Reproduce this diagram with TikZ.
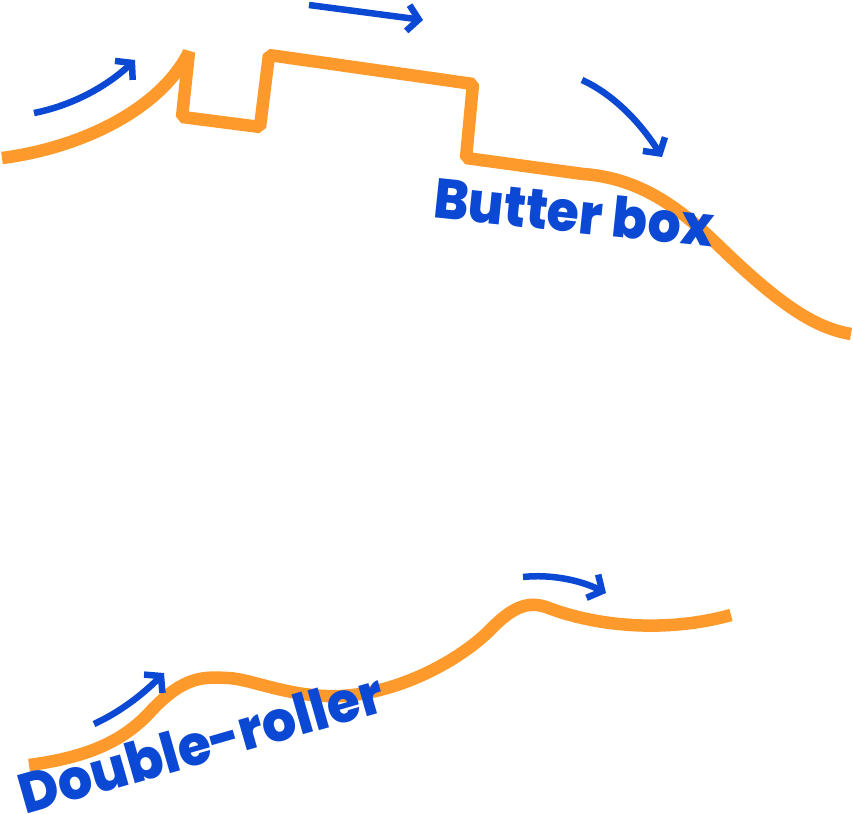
\documentclass[tikz,border=0pt]{standalone}
\usepackage{fontspec}
\setmainfont{Poppins}[BoldFont={Poppins ExtraBold}]
\usetikzlibrary{arrows.meta}
\definecolor{roll}{HTML}{FD9A2B}
\definecolor{flow}{HTML}{0B48D3}
\tikzset{
  dough/.style={draw=roll, line width=12.5pt, line join=bevel},
  flowarrow/.style={draw=flow, line width=6.5pt, -{Straight Barb[length=11pt,width=26pt,line width=6.5pt]}},
  lbl/.style={text=flow, font=\bfseries\fontsize{56}{56}\selectfont, inner sep=0pt}
}
\begin{document}
\begin{tikzpicture}[x=1pt,y=-1pt]
\useasboundingbox (0,0) rectangle (853,813);
% coordinates
\coordinate (a0) at (2,158);
\coordinate (a1) at (189,52);
\coordinate (a2) at (182,117);
\coordinate (a3) at (260,127);
\coordinate (a4) at (269,55);
\coordinate (a5) at (473,84);
\coordinate (a6) at (466,158);
\coordinate (a7) at (583,174);
\coordinate (a8) at (720,247);
\coordinate (a9) at (851,334);
% butter box dough path
\path[dough] (a0) .. controls (80,148) and (160,110) .. (a1) -- (a2) -- (a3) -- (a4) -- (a5) -- (a6) -- (a7)
  .. controls (640,178) and (680,208) .. (a8) .. controls (780,305) and (815,328) .. (a9);
% double roller dough path
\coordinate (b0) at (29,765);
\coordinate (b1) at (228,678);
\coordinate (b2) at (341,696);
\coordinate (b3) at (546,607);
\coordinate (b4) at (731,615);
\path[dough] (b0) .. controls (90,757) and (125,740) .. (152,710)
  .. controls (185,675) and (205,677) .. (b1)
  .. controls (252,679) and (290,698) .. (b2)
  .. controls (400,693) and (460,660) .. (490,630)
  .. controls (515,604) and (530,602) .. (b3)
  .. controls (600,628) and (670,632) .. (b4);
% arrows
\coordinate (t1s) at (34,113); \coordinate (t1e) at (135,60);
\coordinate (t2s) at (309,5);  \coordinate (t2e) at (423,20);
\coordinate (t3s) at (582,80); \coordinate (t3e) at (662,157);
\coordinate (u1s) at (94,724); \coordinate (u1e) at (164,673);
\coordinate (u2s) at (523,577); \coordinate (u2e) at (606,593);
\path[flowarrow] (t1s) .. controls (70,106) and (105,88) .. (t1e);
\path[flowarrow] (t2s) -- (t2e);
\path[flowarrow] (t3s) .. controls (615,95) and (642,125) .. (t3e);
\path[flowarrow] (u1s) .. controls (120,712) and (142,695) .. (u1e);
\path[flowarrow] (u2s) .. controls (550,574) and (580,580) .. (u2e);
% labels
\node[lbl, rotate=-6] (bb) at (574,212) {\scalebox{0.93}[1]{Butter box}};
\node[lbl, rotate=16] (dr) at (201,743) {\scalebox{0.96}[1]{Double-roller}};
\end{tikzpicture}
\end{document}
